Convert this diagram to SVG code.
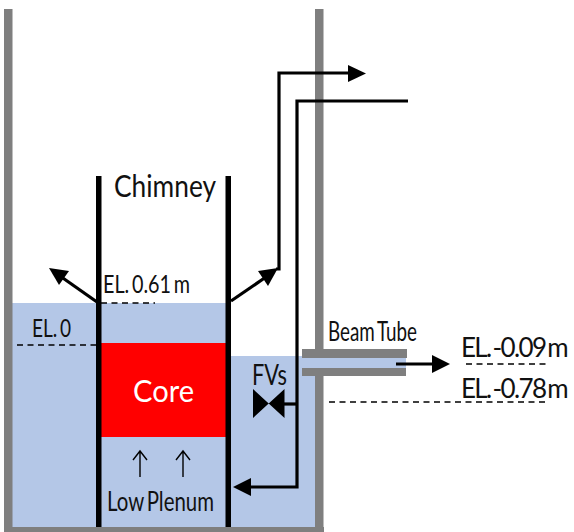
<svg xmlns="http://www.w3.org/2000/svg" width="574" height="532" viewBox="0 0 574 532">
<style>
.wall{fill:#7f7f7f}
.water{fill:#b4c7e7}
.pipe{fill:none;stroke:#000;stroke-width:3.2}
.dash{fill:none;stroke:#000;stroke-width:1.3;stroke-dasharray:6 4.5}
.thin{fill:none;stroke:#000;stroke-width:1.4}
.ah{fill:#000}
text{font-family:Lato,"Liberation Sans",sans-serif;fill:#111;word-spacing:-3px}
.el{font-size:26px;letter-spacing:-1.65px}
</style>
<rect width="574" height="532" fill="#fff"/>
<g id="water">
<rect class="water" x="12" y="303" width="216" height="224"/>
<rect class="water" x="228" y="356" width="87" height="171"/>
<rect class="water" x="302" y="358" width="104" height="10"/>
</g>
<g id="vessel">
<rect class="wall" x="4" y="9" width="8.500" height="523"/>
<rect class="wall" x="4" y="527" width="320" height="5"/>
<rect class="wall" x="315" y="9" width="8.500" height="349"/>
<rect class="wall" x="315" y="368" width="8.500" height="164"/>
</g>
<g id="beam-tube">
<rect class="wall" x="302" y="349" width="105" height="9"/>
<rect class="wall" x="302" y="368" width="104" height="8"/>
<text x="328" y="341" font-size="26" textLength="89" lengthAdjust="spacingAndGlyphs">Beam Tube</text>
</g>
<g id="core">
<rect x="101" y="343" width="125" height="94" fill="#f00"/>
<text x="133" y="402" font-size="31" textLength="61" lengthAdjust="spacingAndGlyphs" style="fill:#fff">Core</text>
</g>
<g id="chimney">
<rect x="96" y="176" width="5.500" height="351" fill="#000"/>
<rect x="225.500" y="176" width="5.500" height="351" fill="#000"/>
<text x="114" y="197" font-size="30" textLength="102" lengthAdjust="spacingAndGlyphs">Chimney</text>
</g>
<g id="low-plenum">
<text x="107" y="511" font-size="26" textLength="107" lengthAdjust="spacingAndGlyphs">Low Plenum</text>
</g>
<g id="fvs">
<path class="ah" d="M253 389L284.500 418V389L253 418Z"/>
<text x="252" y="385" font-size="28" textLength="35" lengthAdjust="spacingAndGlyphs">FVs</text>
</g>
<g id="labels">
<text x="103" y="293" font-size="25" textLength="87" lengthAdjust="spacingAndGlyphs">EL. 0.61 m</text>
<text x="32" y="337" font-size="25" textLength="39" lengthAdjust="spacingAndGlyphs">EL. 0</text>
<text class="el" x="461" y="357">EL. -0.09 m</text>
<text class="el" x="461" y="398">EL. -0.78 m</text>
</g>
<g id="connectors">
<path class="dash" d="M101 303H155"/>
<path class="dash" d="M17 345H96"/>
<path class="dash" d="M466 364H548"/>
<path class="dash" d="M329 402H546"/>
<path class="pipe" d="M97 302L60 276"/>
<path class="ah" d="M49 268L69 271L59 285Z"/>
<path class="pipe" d="M231 301L266 277"/>
<path class="ah" d="M278 268L268 286L258 271Z"/>
<path class="pipe" d="M276 269H279V73H350"/>
<path class="ah" d="M366 73.500L348 65V82Z"/>
<path class="pipe" d="M408 101H297V487H250"/>
<path class="ah" d="M233 487L251 478V496Z"/>
<path class="pipe" d="M284 404H297"/>
<path class="pipe" d="M396 364H434"/>
<path class="ah" d="M450 364L432 355V373Z"/>
<path class="thin" d="M140 477V451M133 460L140 451L147 460"/>
<path class="thin" d="M183 477V451M176 460L183 451L190 460"/>
</g>
</svg>
